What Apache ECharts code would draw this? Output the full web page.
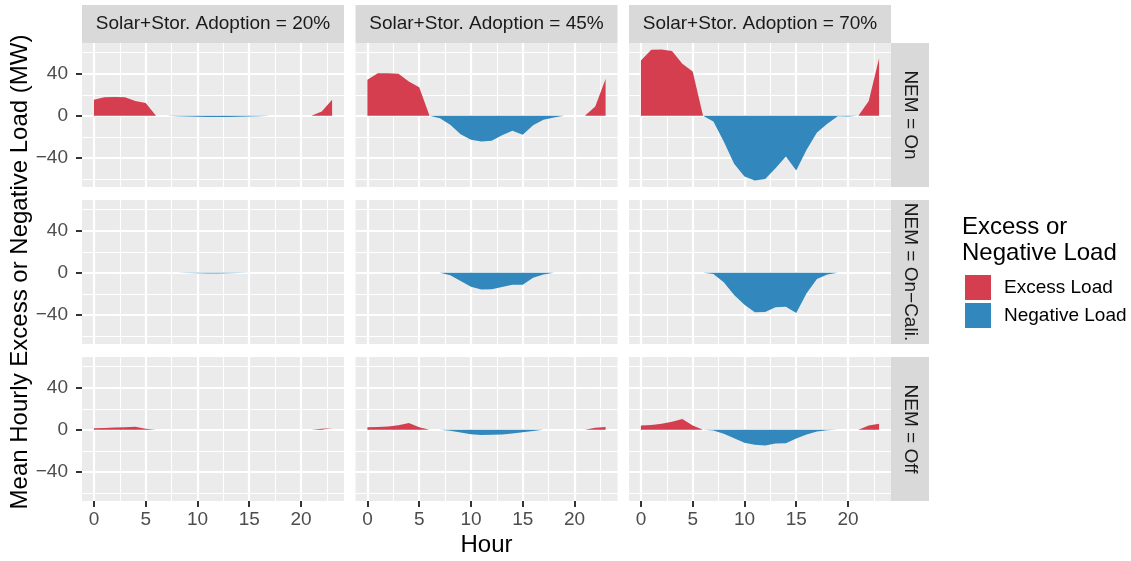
<!DOCTYPE html>
<html><head><meta charset="utf-8">
<script src="https://cdn.jsdelivr.net/npm/echarts@6/dist/echarts.min.js"></script>
<style>html,body{margin:0;padding:0;background:#fff}#c{width:1131px;height:561px}</style>
</head><body><div id="c"></div>
<script>
// ---------- data ----------
const hours = [0,1,2,3,4,5,6,7,8,9,10,11,12,13,14,15,16,17,18,19,20,21,22,23];
const adoptionLabels = ['Solar+Stor. Adoption = 20%', 'Solar+Stor. Adoption = 45%', 'Solar+Stor. Adoption = 70%'];
const nemLabels = ['NEM = On', 'NEM = On\u2212Cali.', 'NEM = Off'];
const xTickValues = [0, 5, 10, 15, 20];
const xMinorValues = [2.5, 7.5, 12.5, 17.5, 22.5];
const yTickValues = [-40, 0, 40];
const yMinorValues = [-60, -20, 20, 60];
const seriesNames = ['Excess Load', 'Negative Load'];

// NEM = On
const excess_on_20   = [15.2,17.7,18,17.7,14,12.3,0,0,0,0,0,0,0,0,0,0,0,0,0,0,0,0,4.1,15.2];
const negative_on_20 = [0,0,0,0,0,0,0,0,-0.3,-0.6,-0.9,-1,-1,-1,-0.8,-0.6,-0.3,0,0,0,0,0,0,0];
const excess_on_45   = [34.2,40.5,40.5,39.9,32.6,27.2,0,0,0,0,0,0,0,0,0,0,0,0,0,0,0,0,8.9,35.1];
const negative_on_45 = [0,0,0,0,0,0,0,-2.2,-8.5,-17.4,-22.8,-24.4,-23.7,-18.4,-14.2,-18,-8.9,-3.8,-1.6,0,0,0,0,0];
const excess_on_70   = [52.5,62.7,63,61.7,49.4,42.1,0,0,0,0,0,0,0,0,0,0,0,0,0,0,0,0,14.2,54.7];
const negative_on_70 = [0,0,0,0,0,0,0,-5.4,-24.4,-45.6,-57.6,-61.4,-60.1,-49.7,-38.6,-51.9,-32.3,-15.8,-7.6,-0.5,-0.6,0,0,0];
// NEM = On-Cali.
const excess_cali_20   = [0,0,0,0,0,0,0,0,0,0,0,0,0,0,0,0,0,0,0,0,0,0,0,0];
const negative_cali_20 = [0,0,0,0,0,0,0,0,0,-0.1,-0.4,-0.6,-0.6,-0.4,-0.2,0,0,0,0,0,0,0,0,0];
const excess_cali_45   = [0,0,0,0,0,0,0,0,0,0,0,0,0,0,0,0,0,0,0,0,0,0,0,0];
const negative_cali_45 = [0,0,0,0,0,0,0,0,-2.2,-7.8,-13.1,-15.9,-15.6,-13.4,-11.3,-11.3,-4.7,-1.6,0,0,0,0,0,0];
const excess_cali_70   = [0,0,0,0,0,0,0,0,0,0,0,0,0,0,0,0,0,0,0,0,0,0,0,0];
const negative_cali_70 = [0,0,0,0,0,0,0,-1,-9,-21,-30.3,-37.5,-37.2,-32.8,-32.2,-38.1,-19.4,-5.9,-1.6,0,0,0,0,0];
// NEM = Off
const excess_off_20   = [1.6,1.8,2.2,2.5,3,1,0,0,0,0,0,0,0,0,0,0,0,0,0,0,0,0,1,1.5];
const negative_off_20 = [0,0,0,0,0,0,0,0,0,0,0,0,0,0,0,0,0,0,0,0,0,0,0,0];
const excess_off_45   = [2.5,2.8,3.2,4.4,6.6,2.5,0,0,0,0,0,0,0,0,0,0,0,0,0,0,0,0,1.9,2.8];
const negative_off_45 = [0,0,0,0,0,0,0,0,-0.8,-2.5,-4.1,-5,-4.7,-4.4,-3.5,-2.2,-1,0,0,0,0,0,0,0];
const excess_off_70   = [4.1,4.7,5.7,7.6,10.4,4.1,0,0,0,0,0,0,0,0,0,0,0,0,0,0,0,0,4.1,5.7];
const negative_off_70 = [0,0,0,0,0,0,0,-0.6,-3.8,-7.9,-12.3,-14.2,-14.9,-13,-12.7,-8.2,-4.4,-1.6,-0.3,0,0,0,0,0];

const panelData = [
  [[excess_on_20, negative_on_20], [excess_on_45, negative_on_45], [excess_on_70, negative_on_70]],
  [[excess_cali_20, negative_cali_20], [excess_cali_45, negative_cali_45], [excess_cali_70, negative_cali_70]],
  [[excess_off_20, negative_off_20], [excess_off_45, negative_off_45], [excess_off_70, negative_off_70]]
];

// ---------- layout / style ----------
const FONT = '"Liberation Sans", Arial, Helvetica, sans-serif';
const RED = '#D53E4F', BLUE = '#3288BD';
const COLORS = [RED, BLUE];
const X_MIN = -1.15, X_MAX = 24.15, Y_MIN = -67.6, Y_MAX = 69.2;
const colLeft = [82, 355.5, 629], colW = 262;
const rowTop = [43, 200, 357], rowH = 144;
const stripTop = 5, stripH = 38, rightStripX = 891, rightStripW = 38;

const fmt = v => String(v).replace('-', '\u2212');

const grids = [], xAxes = [], yAxes = [], series = [], graphics = [];
function gridLines(i, vals, axis, width) {
  return {
    type: 'lines', coordinateSystem: 'cartesian2d', xAxisIndex: i, yAxisIndex: i,
    polyline: false, silent: true, z: 1, animation: false,
    lineStyle: { color: '#FFFFFF', width: width, opacity: 1, curveness: 0 },
    data: vals.map(v => ({ coords: axis === 'x' ? [[v, Y_MIN], [v, Y_MAX]] : [[X_MIN, v], [X_MAX, v]] }))
  };
}
for (let r = 0; r < 3; r++) {
  for (let c = 0; c < 3; c++) {
    const i = r * 3 + c;
    grids.push({ left: colLeft[c], top: rowTop[r], width: colW, height: rowH, show: true,
      backgroundColor: '#EBEBEB', borderWidth: 0, containLabel: false });
    xAxes.push({ gridIndex: i, type: 'value', min: X_MIN, max: X_MAX,
      axisLine: { show: false, onZero: false }, splitLine: { show: false },
      axisTick: { show: r === 2, customValues: xTickValues, length: 6, lineStyle: { color: '#333333', width: 2 } },
      axisLabel: { show: r === 2, customValues: xTickValues, margin: 9, fontSize: 19, color: '#4D4D4D', fontFamily: FONT, formatter: fmt } });
    yAxes.push({ gridIndex: i, type: 'value', min: Y_MIN, max: Y_MAX,
      axisLine: { show: false, onZero: false }, splitLine: { show: false },
      axisTick: { show: c === 0, customValues: yTickValues, length: 6, lineStyle: { color: '#333333', width: 2 } },
      axisLabel: { show: c === 0, customValues: yTickValues, margin: 14, fontSize: 19, color: '#4D4D4D', fontFamily: FONT, formatter: fmt } });
    series.push(gridLines(i, xMinorValues, 'x', 1.1));
    series.push(gridLines(i, yMinorValues, 'y', 1.1));
    series.push(gridLines(i, xTickValues, 'x', 2.2));
    series.push(gridLines(i, yTickValues, 'y', 2.2));
    panelData[r][c].forEach((vals, k) => {
      series.push({
        name: seriesNames[k], type: 'line', xAxisIndex: i, yAxisIndex: i, z: 2,
        data: hours.map((h, j) => [h, vals[j]]),
        symbol: 'none', showSymbol: false, smooth: false, silent: true, animation: false,
        color: COLORS[k], itemStyle: { color: COLORS[k] },
        lineStyle: { width: 0, opacity: 0, color: COLORS[k] },
        areaStyle: { color: COLORS[k], opacity: 1, origin: 0 }
      });
    });
  }
}
// strips
for (let c = 0; c < 3; c++) {
  graphics.push({ type: 'rect', shape: { x: colLeft[c], y: stripTop, width: colW, height: stripH }, style: { fill: '#D9D9D9' }, silent: true });
  graphics.push({ type: 'text', x: colLeft[c] + colW / 2, y: stripTop + stripH / 2,
    style: { text: adoptionLabels[c], fontSize: 19, fontFamily: FONT, fill: '#1A1A1A', textAlign: 'center', textVerticalAlign: 'middle' } });
}
for (let r = 0; r < 3; r++) {
  graphics.push({ type: 'rect', shape: { x: rightStripX, y: rowTop[r], width: rightStripW, height: rowH }, style: { fill: '#D9D9D9' }, silent: true });
  graphics.push({ type: 'text', x: rightStripX + rightStripW / 2, y: rowTop[r] + rowH / 2, rotation: -Math.PI / 2,
    style: { text: nemLabels[r], fontSize: 19, fontFamily: FONT, fill: '#1A1A1A', textAlign: 'center', textVerticalAlign: 'middle' } });
}
// axis titles
graphics.push({ type: 'text', x: 20, y: 272, rotation: Math.PI / 2,
  style: { text: 'Mean Hourly Excess or Negative Load (MW)', fontSize: 24, fontFamily: FONT, fill: '#000', textAlign: 'center', textVerticalAlign: 'middle' } });
graphics.push({ type: 'text', x: 486.5, y: 545,
  style: { text: 'Hour', fontSize: 24, fontFamily: FONT, fill: '#000', textAlign: 'center', textVerticalAlign: 'middle' } });
// legend title
graphics.push({ type: 'text', x: 962, y: 214,
  style: { text: 'Excess or\nNegative Load', fontSize: 24, lineHeight: 26, fontFamily: FONT, fill: '#000', textAlign: 'left', textVerticalAlign: 'top' } });

const chart = echarts.init(document.getElementById('c'), null, { renderer: 'canvas' });
chart.setOption({
  backgroundColor: '#FFFFFF',
  animation: false,
  grid: grids, xAxis: xAxes, yAxis: yAxes, series: series,
  legend: {
    left: 965, top: 275, padding: 0, orient: 'vertical', itemWidth: 26, itemHeight: 25, itemGap: 3,
    icon: 'rect', selectedMode: false,
    textStyle: { fontSize: 19, color: '#000', fontFamily: FONT, padding: [0, 0, 0, 8] },
    data: [{ name: 'Excess Load', itemStyle: { color: RED } }, { name: 'Negative Load', itemStyle: { color: BLUE } }]
  },
  graphic: graphics
});
</script></body></html>
